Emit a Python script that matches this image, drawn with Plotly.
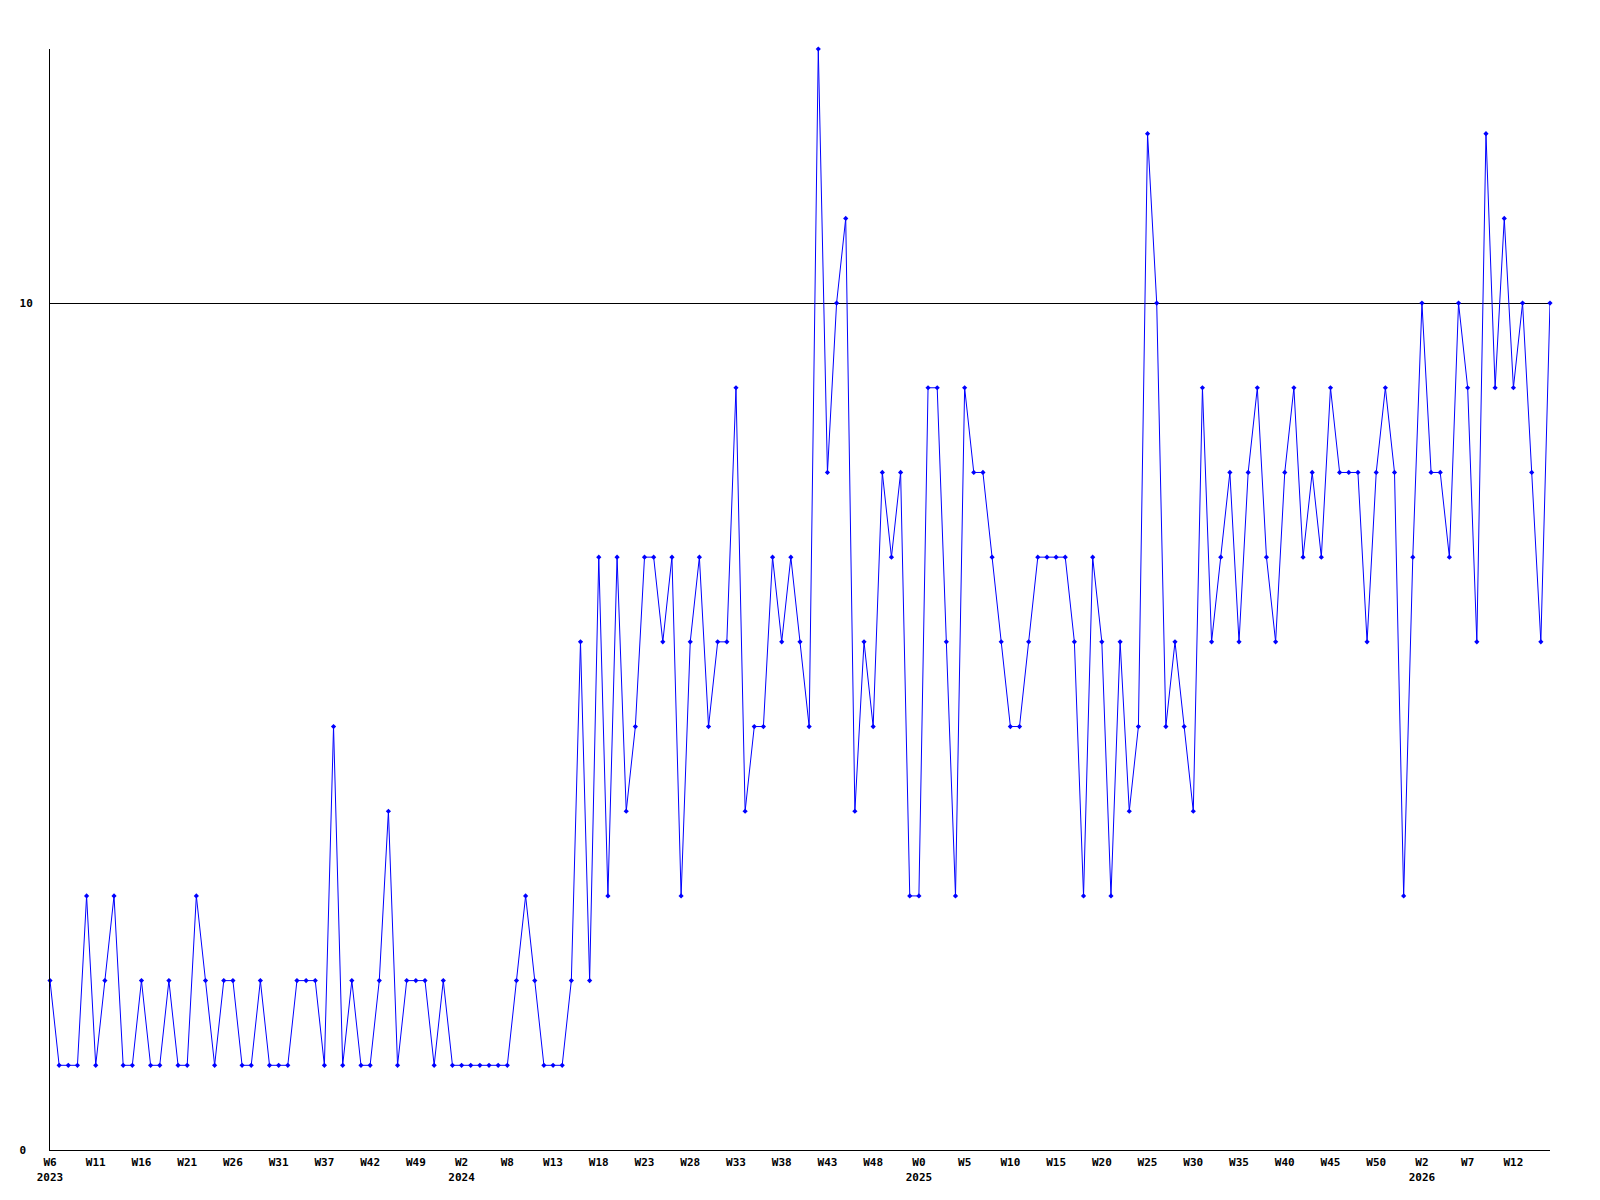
import plotly.graph_objects as go

# Weekly values, one per point (2023 W6 .. 2026 W15)
values = [
    2, 1, 1, 1, 3, 1, 2, 3, 1, 1,
    2, 1, 1, 2, 1, 1, 3, 2, 1, 2,
    2, 1, 1, 2, 1, 1, 1, 2, 2, 2,
    1, 5, 1, 2, 1, 1, 2, 4, 1, 2,
    2, 2, 1, 2, 1, 1, 1, 1, 1, 1,
    1, 2, 3, 2, 1, 1, 1, 2, 6, 2,
    7, 3, 7, 4, 5, 7, 7, 6, 7, 3,
    6, 7, 5, 6, 6, 9, 4, 5, 5, 7,
    6, 7, 6, 5, 13, 8, 10, 11, 4, 6,
    5, 8, 7, 8, 3, 3, 9, 9, 6, 3,
    9, 8, 8, 7, 6, 5, 5, 6, 7, 7,
    7, 7, 6, 3, 7, 6, 3, 6, 4, 5,
    12, 10, 5, 6, 5, 4, 9, 6, 7, 8,
    6, 8, 9, 7, 6, 8, 9, 7, 8, 7,
    9, 8, 8, 8, 6, 8, 9, 8, 3, 7,
    10, 8, 8, 7, 10, 9, 6, 12, 9, 11,
    9, 10, 8, 6, 10,
]

# Tick labels shown every 5th point
tick_labels = [
    "W6<br>2023", "W11", "W16", "W21", "W26", "W31", "W37", "W42", "W49",
    "W2<br>2024", "W8", "W13", "W18", "W23", "W28", "W33", "W38", "W43", "W48",
    "W0<br>2025", "W5", "W10", "W15", "W20", "W25", "W30", "W35", "W40", "W45", "W50",
    "W2<br>2026", "W7", "W12",
]
tick_step = 5

y_tick_vals = [0, 10]
y_tick_text = ["0\u00a0", "10"]

x = list(range(len(values)))
tickvals = [i * tick_step for i in range(len(tick_labels))]

font = dict(family="DejaVu Sans Mono", size=11, color="black", weight="bold")

fig = go.Figure(
    go.Scatter(
        x=x,
        y=values,
        mode="lines+markers",
        line=dict(color="#0000ff", width=1),
        marker=dict(symbol="diamond", size=4, color="#0000ff"),
        cliponaxis=False,
        hoverinfo="x+y",
    )
)

fig.update_layout(
    width=1600,
    height=1200,
    margin=dict(l=42, r=58, t=41, b=58, autoexpand=False),
    paper_bgcolor="white",
    plot_bgcolor="white",
    showlegend=False,
    font=font,
)

fig.update_xaxes(
    range=[0, len(values) - 1],
    tickmode="array",
    tickvals=tickvals,
    ticktext=tick_labels,
    showgrid=False,
    zeroline=False,
    showline=True,
    linecolor="black",
    linewidth=1,
    ticks="",
    ticklabelstandoff=2,
    tickfont=font,
    tickangle=0,
    automargin=False,
)

fig.update_yaxes(
    range=[0, 13],
    tickmode="array",
    tickvals=y_tick_vals,
    ticktext=y_tick_text,
    showgrid=True,
    gridcolor="black",
    gridwidth=1,
    zeroline=False,
    showline=True,
    linecolor="black",
    linewidth=1,
    ticks="",
    ticklabelstandoff=14,
    tickfont=font,
    automargin=False,
)

fig.write_html("out.html")
